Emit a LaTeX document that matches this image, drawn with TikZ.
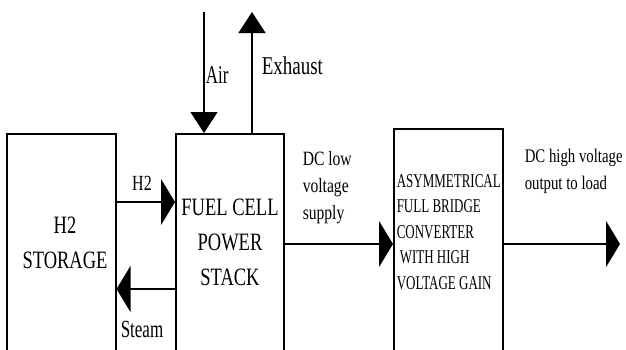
\documentclass[tikz,border=0pt]{standalone}
\usepackage{graphicx}
\usepackage{fontspec}
\setmainfont{Liberation Serif}
\usetikzlibrary{arrows.meta}
\begin{document}
\begin{tikzpicture}[x=1pt,y=-1pt, line width=1.5pt,
  box/.style={draw, rectangle, inner sep=0pt, anchor=north west},
  harrow/.style={-{Triangle[length=14pt,width=46pt]}},
  varrow/.style={-{Triangle[length=21pt,width=27pt]}},
  txt/.style={inner sep=0pt}]
\useasboundingbox (0,0) rectangle (626,349);
\clip (0,0) rectangle (626,349);
% boxes
\node[box, minimum width=109pt, minimum height=230pt] (storage) at (6,133) {};
\node[box, minimum width=108pt, minimum height=230pt] (fuel) at (175,133) {};
\node[box, minimum width=109pt, minimum height=240pt] (conv) at (393,128) {};
% helper coordinates
\coordinate (h2y) at (0,202);
\coordinate (steamy) at (0,289);
\coordinate (dcy) at (0,244);
\coordinate (airtop) at (204,12);
\coordinate (exhtop) at (252,12);
\coordinate (load) at (620,244);
% connectors
\draw[harrow] (storage.east |- h2y) -- (fuel.west |- h2y);
\draw[harrow] (fuel.west |- steamy) -- (storage.east |- steamy);
\draw[harrow] (fuel.east |- dcy) -- (conv.west |- dcy);
\draw[harrow] (conv.east |- load) -- (load);
\draw[varrow] (airtop) -- (airtop |- fuel.north);
\draw[varrow] (exhtop |- fuel.north) -- (exhtop);
% texts
\node[txt, anchor=base] (storagetxt) at (65,233)
  {\scalebox{1}[1.35]{\fontsize{18.5}{26}\selectfont\begin{tabular}[t]{@{}c@{}}H2\\STORAGE\end{tabular}}};
\node[txt, anchor=base] (fueltxt) at (230,215)
  {\scalebox{1}[1.35]{\fontsize{18.5}{26}\selectfont\begin{tabular}[t]{@{}c@{}}FUEL CELL\\POWER\\STACK\end{tabular}}};
\node[txt, anchor=base west] (convtxt) at (396,187)
  {\scalebox{1}[1.5]{\fontsize{13}{17.1}\selectfont\begin{tabular}[t]{@{}l@{}}ASYMMETRICAL\\FULL BRIDGE\\CONVERTER\\\hspace{3pt}WITH HIGH\\VOLTAGE GAIN\end{tabular}}};
\node[txt, anchor=base] (h2lbl) at (142,190)
  {\scalebox{1}[1.35]{\fontsize{16}{19}\selectfont H2}};
\node[txt, anchor=base] (steamlbl) at (142,337)
  {\scalebox{1}[1.45]{\fontsize{17}{20}\selectfont Steam}};
\node[txt, anchor=base west] (airlbl) at (205,83)
  {\scalebox{1}[1.5]{\fontsize{17}{20}\selectfont Air}};
\node[txt, anchor=base west] (exhlbl) at (261,74)
  {\scalebox{1}[1.35]{\fontsize{19}{22}\selectfont Exhaust}};
\node[txt, anchor=base west] (dclow) at (302,165)
  {\scalebox{1}[1.3]{\fontsize{15.6}{20.8}\selectfont\begin{tabular}[t]{@{}l@{}}DC low\\voltage\\supply\end{tabular}}};
\node[txt, anchor=base west] (dchigh) at (524,162)
  {\scalebox{1}[1.3]{\fontsize{14.8}{21.5}\selectfont\begin{tabular}[t]{@{}l@{}}DC high voltage\\output to load\end{tabular}}};
\end{tikzpicture}
\end{document}
